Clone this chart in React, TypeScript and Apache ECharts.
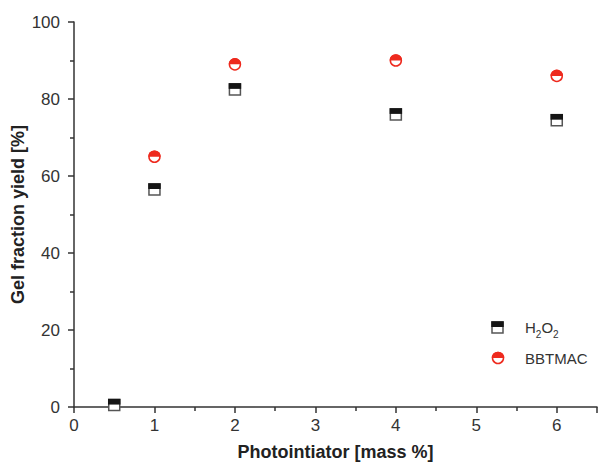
import React, { useEffect, useRef } from "react";
import * as echarts from "echarts";

const xH2O2 = [0.5, 1, 2, 4, 6];
const yH2O2 = [0.5, 56.5, 82.5, 76, 74.5];
const xBBTMAC = [1, 2, 4, 6];
const yBBTMAC = [65, 89, 90, 86];
const xTicks = [0, 1, 2, 3, 4, 5, 6];
const yTicks = [0, 20, 40, 60, 80, 100];

const RED = "#ee2a1e";
const DARK = "#151515";

export default function App() {
  const ref = useRef<HTMLDivElement>(null);
  useEffect(() => {
    if (!ref.current) return;
    const chart = echarts.init(ref.current, null, { renderer: "svg" });
    const h = xH2O2.map((x, i) => [x, yH2O2[i]]);
    const b = xBBTMAC.map((x, i) => [x, yBBTMAC[i]]);
    const font = "'Liberation Sans', Arial, sans-serif";
    const axisCommon = {
      axisLine: { show: true, lineStyle: { color: "#333", width: 1.5 } },
      axisTick: { show: true, inside: false, length: 6, lineStyle: { color: "#333", width: 1.5 } },
      minorTick: { show: true, splitNumber: 2, length: 4, lineStyle: { color: "#333", width: 1.5 } },
      splitLine: { show: false },
    };
    const squareItem = (_p: any, api: any) => {
      const c = api.coord([api.value(0), api.value(1)]);
      const s = 11;
      return {
        type: "group",
        children: [
          { type: "rect", shape: { x: c[0] - s / 2, y: c[1] - s / 2, width: s, height: s }, style: { fill: "#fff", stroke: "#555", lineWidth: 1.5 } },
          { type: "rect", shape: { x: c[0] - s / 2 - 0.75, y: c[1] - s / 2 - 0.75, width: s + 1.5, height: s / 2 + 0.25 }, style: { fill: DARK } },
        ],
      };
    };
    const circleItem = (_p: any, api: any) => {
      const c = api.coord([api.value(0), api.value(1)]);
      return {
        type: "group",
        children: [
          { type: "circle", shape: { cx: c[0], cy: c[1], r: 5.5 }, style: { fill: "#fff", stroke: RED, lineWidth: 1.5 } },
          { type: "sector", shape: { cx: c[0], cy: c[1], r: 6.25, r0: 0, startAngle: Math.PI, endAngle: 2 * Math.PI, clockwise: true }, style: { fill: RED } },
        ],
      };
    };
    chart.setOption({
      animation: false,
      backgroundColor: "#fff",
      grid: { left: 74, right: 2, top: 22, bottom: 56, containLabel: false, outerBoundsMode: "none" },
      xAxis: {
        type: "value",
        min: 0,
        max: 6.5,
        interval: 1,
        name: "Photointiator [mass %]",
        nameLocation: "middle",
        nameGap: 36,
        nameTextStyle: { fontFamily: font, fontSize: 18, fontWeight: "bold", color: "#222" },
        ...axisCommon,
        axisLabel: {
          fontFamily: font,
          fontSize: 17,
          color: "#333",
          margin: 10,
          formatter: (v: number) => (xTicks.includes(v) ? String(v) : ""),
        },
      },
      yAxis: {
        type: "value",
        min: 0,
        max: 100,
        interval: 20,
        name: "Gel fraction yield [%]",
        nameLocation: "middle",
        nameGap: 47,
        nameMoveOverlap: false,
        nameTextStyle: { fontFamily: font, fontSize: 18, fontWeight: "bold", color: "#222" },
        ...axisCommon,
        axisLabel: {
          fontFamily: font,
          fontSize: 17,
          color: "#333",
          margin: 14,
          formatter: (v: number) => (yTicks.includes(v) ? String(v) : ""),
        },
      },
      series: [
        {
          name: "H2O2",
          type: "custom",
          data: h,
          encode: { x: 0, y: 1 },
          renderItem: squareItem,
          z: 3,
        },
        {
          name: "BBTMAC",
          type: "custom",
          data: b,
          encode: { x: 0, y: 1 },
          renderItem: circleItem,
          z: 3,
        },
      ],
      graphic: [
        { type: "rect", shape: { x: 492, y: 322, width: 11, height: 11 }, style: { fill: "#fff", stroke: "#555", lineWidth: 1.5 } },
        { type: "rect", shape: { x: 491.25, y: 321.25, width: 12.5, height: 5.75 }, style: { fill: DARK } },
        {
          type: "text",
          x: 525,
          y: 327.5,
          style: {
            text: "{n|H}{s|2}{n|O}{s|2}",
            rich: {
              n: { fontFamily: font, fontSize: 15, fill: "#333", verticalAlign: "middle" },
              s: { fontFamily: font, fontSize: 10, fill: "#333", padding: [14, 0, 0, 0] },
            },
            verticalAlign: "middle",
          },
        },
        { type: "circle", shape: { cx: 498, cy: 358, r: 5.5 }, style: { fill: "#fff", stroke: RED, lineWidth: 1.5 } },
        { type: "sector", shape: { cx: 498, cy: 358, r: 6.25, r0: 0, startAngle: Math.PI, endAngle: 2 * Math.PI, clockwise: true }, style: { fill: RED } },
        {
          type: "text",
          x: 525,
          y: 358,
          style: { text: "BBTMAC", fontFamily: font, fontSize: 15, fill: "#333", verticalAlign: "middle" },
        },
      ],
    });
    return () => chart.dispose();
  }, []);
  return <div ref={ref} style={{ position: "fixed", left: 0, top: 0, width: 599, height: 463 }} />;
}
